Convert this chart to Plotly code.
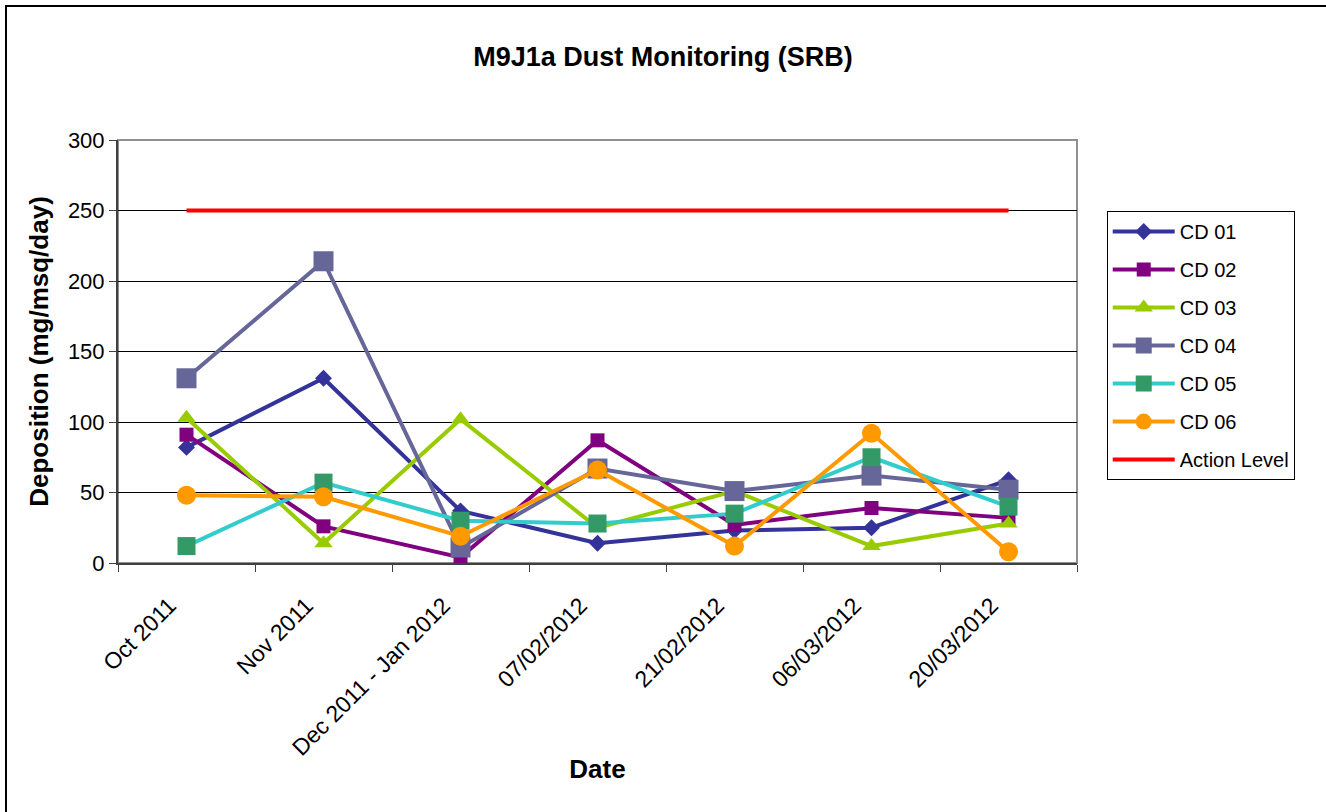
import plotly.graph_objects as go

categories = ["Oct 2011", "Nov 2011", "Dec 2011 - Jan 2012", "07/02/2012",
              "21/02/2012", "06/03/2012", "20/03/2012"]
cd01 = [82, 131, 37, 14, 23, 25, 59]
cd02 = [91, 26, 4, 87, 27, 39, 32]
cd03 = [103, 14, 102, 25, 51, 12, 28]
cd04 = [131, 214, 11, 67, 51, 62, 52]
cd05 = [12, 57, 30, 28, 35, 75, 40]
cd06 = [48, 47, 19, 66, 12, 92, 8]
action_level = [250, 250, 250, 250, 250, 250, 250]

series = [
    ("CD 01", cd01, "#333399", "#333399", "diamond", 13),
    ("CD 02", cd02, "#800080", "#800080", "square", 14),
    ("CD 03", cd03, "#99CC00", "#99CC00", "triangle-up", 16),
    ("CD 04", cd04, "#666699", "#666699", "square", 20),
    ("CD 05", cd05, "#33CCCC", "#339966", "square", 18),
    ("CD 06", cd06, "#FF9900", "#FF9900", "circle", 19),
]

fig = go.Figure()
for i, (name, vals, lc, mc, sym, sz) in enumerate(series):
    fig.add_trace(go.Scatter(
        x=categories, y=vals, name=name, mode="lines+markers",
        line=dict(color=lc, width=4),
        marker=dict(color=mc, symbol=sym, size=sz, line=dict(width=0)),
        legendgroup=f"g{i}",
    ))
fig.add_trace(go.Scatter(
    x=categories, y=action_level, name="Action Level", mode="lines",
    line=dict(color="#FF0000", width=4), legendgroup="g6",
))

font_family = "Liberation Sans, Arial, sans-serif"

fig.update_layout(
    width=1326, height=812,
    margin=dict(l=118, r=249, t=140, b=249),
    paper_bgcolor="white", plot_bgcolor="white",
    font=dict(family=font_family, color="black"),
    title=dict(text="<b>M9J1a Dust Monitoring (SRB)</b>", x=0.5, xref="container",
               y=1 - 57 / 812, yref="container", yanchor="middle",
               font=dict(size=27, family=font_family, color="black")),
    showlegend=True,
    legend=dict(x=1.031, y=0.832, xanchor="left", yanchor="top",
                bordercolor="black", borderwidth=1, bgcolor="white",
                font=dict(size=20, family=font_family, color="black"),
                tracegroupgap=9, itemwidth=62, traceorder="grouped"),
    xaxis=dict(
        type="category", tickson="boundaries", ticks="outside", ticklen=7,
        tickcolor="#404040", tickangle=-45,
        ticklabelstandoff=18, ticklabelshift=-17,
        tickfont=dict(size=23, family=font_family, color="black"),
        showline=True, linecolor="#404040", linewidth=2, showgrid=False,
        title=dict(text="<b>Date</b>", font=dict(size=26, family=font_family, color="black"),
                   standoff=0),
        automargin=False, range=[-0.5, 6.5],
    ),
    yaxis=dict(
        range=[0, 300], dtick=50, ticks="outside", ticklen=7, tickcolor="#404040",
        tickfont=dict(size=22, family=font_family, color="black"),
        showline=True, linecolor="#404040", linewidth=2,
        showgrid=True, gridcolor="black", gridwidth=1, zeroline=False,
        title=dict(text="<b>Deposition (mg/msq/day)</b>",
                   font=dict(size=26, family=font_family, color="black"), standoff=12),
        automargin=False,
    ),
    shapes=[
        dict(type="rect", xref="paper", yref="paper", x0=0, x1=1, y0=0, y1=1,
             line=dict(color="#909090", width=2), layer="below"),
        dict(type="rect", xref="paper", yref="paper",
             x0=(6 - 118) / 959, x1=1.4, y0=-0.8, y1=(563 - 6) / 423,
             line=dict(color="black", width=2), layer="below"),
    ],
)

fig.write_html("out.html", config={"displayModeBar": False},
               post_script="document.body.style.margin='0';")
